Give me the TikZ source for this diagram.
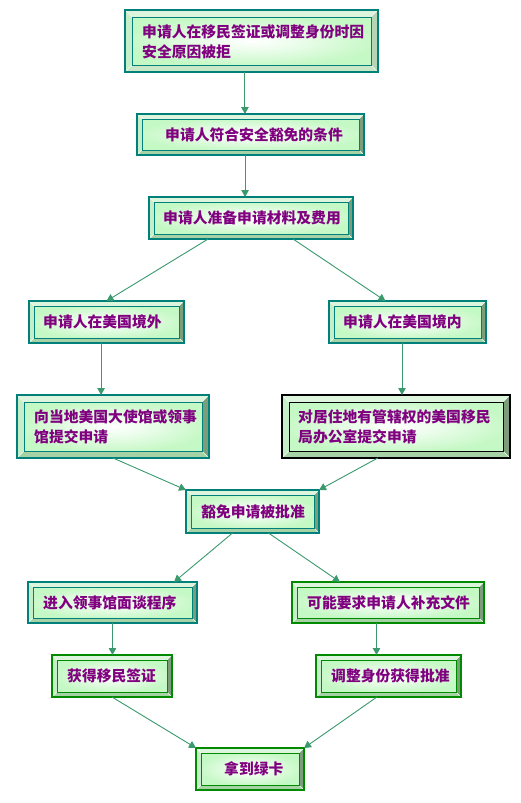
\documentclass[tikz,border=0pt]{standalone}
\usepackage{fontspec}
\newfontfamily\cjk{Noto Sans CJK SC}
\usetikzlibrary{calc,arrows.meta}
\definecolor{bteal}{HTML}{00807A}
\definecolor{bgreen}{HTML}{008A00}
\definecolor{inC}{HTML}{C4F8C4}
\definecolor{topC}{HTML}{DDF4DD}
\definecolor{leftC}{HTML}{C6EEC8}
\definecolor{rdark}{HTML}{7C9C7C}
\definecolor{rlite}{HTML}{B6D4B6}
\definecolor{bmid}{HTML}{A6D2A6}
\definecolor{blite}{HTML}{C8E8C8}
\definecolor{purp}{HTML}{800080}
\definecolor{arrowc}{HTML}{3A9A6E}
\pgfdeclareradialshading{glow}{\pgfpoint{0bp}{0bp}}{color(0bp)=(white); color(10bp)=(white!65!inC); color(27bp)=(inC); color(50bp)=(inC)}
\newcommand\bevbox[9]{%
  \node[minimum width={#4-#2}, minimum height={#5-#3}, inner sep=0pt, outer sep=0pt] (#1) at ({(#2+#4)/2},{(#3+#5)/2}) {};
  \fill[topC] (#1.north west) -- (#1.north east) -- ($(#1.north east)+(-#6,#6)$) -- ($(#1.north west)+(#6,#6)$) -- cycle;
  \fill[leftC] (#1.north west) -- ($(#1.north west)+(#6,#6)$) -- ($(#1.south west)+(#6,-#6)$) -- (#1.south west) -- cycle;
  \fill[#8] (#1.north east) -- (#1.south east) -- ($(#1.south east)+(-#6,-#6)$) -- ($(#1.north east)+(-#6,#6)$) -- cycle;
  \fill[#9] (#1.south west) -- ($(#1.south west)+(#6,-#6)$) -- ($(#1.south east)+(-#6,-#6)$) -- (#1.south east) -- cycle;
  \draw[white!60!topC, line width=0.4pt] (#1.north west) -- ($(#1.north west)+(#6,#6)$) (#1.north east) -- ($(#1.north east)+(-#6,#6)$) (#1.south west) -- ($(#1.south west)+(#6,-#6)$) (#1.south east) -- ($(#1.south east)+(-#6,-#6)$);
  \shade[shading=glow] ($(#1.north west)+(#6,#6)$) rectangle ($(#1.south east)+(-#6,-#6)$);
  \draw[#7, line width=0.9pt] ($(#1.north west)+(#6,#6)$) rectangle ($(#1.south east)+(-#6,-#6)$);
  \draw[#7, line width=1.2pt] (#1.north west) rectangle (#1.south east);
}
\begin{document}
\begin{tikzpicture}[x=1pt, y=-1pt,
  txt/.style={font=\cjk\bfseries\fontsize{14.8pt}{20pt}\selectfont, text=purp, anchor=west, inner sep=0pt, align=left},
  arr/.style={draw=arrowc, line width=0.9pt, -{Triangle[length=7pt,width=7.5pt]}}]
\fill[white] (0,0) rectangle (521,803);
\useasboundingbox (0,0) rectangle (521,803);

\bevbox{b1}{125}{10}{378}{72}{7}{bteal}{rlite}{blite}
\bevbox{b2}{137}{114}{364}{155}{5}{bteal}{rdark}{bmid}
\bevbox{b3}{149}{197}{353}{239}{5}{bteal}{rdark}{bmid}
\bevbox{b4}{29}{301}{184}{343}{5}{bteal}{rdark}{bmid}
\bevbox{b5}{329}{301}{486}{343}{5}{bteal}{rdark}{bmid}
\bevbox{b6}{17}{395}{209}{458}{7}{bteal}{rdark}{bmid}
\bevbox{b7}{282}{395}{510}{458}{7}{black}{rdark}{bmid}
\bevbox{b8}{186}{490}{319}{533}{5}{bteal}{rdark}{bmid}
\bevbox{b9}{28}{582}{197}{623}{5}{bteal}{rdark}{bmid}
\bevbox{b10}{292}{582}{484}{623}{5}{bgreen}{rdark}{bmid}
\bevbox{b11}{52}{655}{172}{697}{5}{bgreen}{rdark}{bmid}
\bevbox{b12}{316}{655}{461}{697}{5}{bgreen}{rdark}{bmid}
\bevbox{b13}{196}{748}{304}{790}{5}{bgreen}{rdark}{bmid}

\node[txt] (t1) at ($(b1.west)+(17,1)$) {申请人在移民签证或调整身份时因\\安全原因被拒};
\node[txt] (t2) at ($(b2.west)+(28,0)$) {申请人符合安全豁免的条件};
\node[txt] (t3) at ($(b3.west)+(14,0)$) {申请人准备申请材料及费用};
\node[txt] (t4) at ($(b4.west)+(14,0)$) {申请人在美国境外};
\node[txt] (t5) at ($(b5.west)+(14,0)$) {申请人在美国境内};
\node[txt] (t6) at ($(b6.west)+(17,0)$) {向当地美国大使馆或领事\\馆提交申请};
\node[txt] (t7) at ($(b7.west)+(16,0)$) {对居住地有管辖权的美国移民\\局办公室提交申请};
\node[txt] (t8) at ($(b8.west)+(15,0)$) {豁免申请被批准};
\node[txt] (t9) at ($(b9.west)+(15,0)$) {进入领事馆面谈程序};
\node[txt] (t10) at ($(b10.west)+(15,0)$) {可能要求申请人补充文件};
\node[txt] (t11) at ($(b11.west)+(15,0)$) {获得移民签证};
\node[txt] (t12) at ($(b12.west)+(15,0)$) {调整身份获得批准};
\node[txt] (t13) at ($(b13.west)+(28,0)$) {拿到绿卡};

% start / end points on box edges
\coordinate (s1) at ($(b1.south west)!0.474!(b1.south east)$);
\coordinate (s2) at ($(b2.south west)!0.476!(b2.south east)$);
\coordinate (s3l) at ($(b3.south west)!0.29!(b3.south east)$);
\coordinate (s3r) at ($(b3.south west)!0.706!(b3.south east)$);
\coordinate (e5) at ($(b5.north west)!0.36!(b5.north east)$);
\coordinate (s4) at ($(b4.south west)!0.465!(b4.south east)$);
\coordinate (s5) at ($(b5.south west)!0.465!(b5.south east)$);
\coordinate (s7) at ($(b7.south west)!0.42!(b7.south east)$);
\coordinate (s8l) at ($(b8.south west)!0.35!(b8.south east)$);
\coordinate (s8r) at ($(b8.south west)!0.62!(b8.south east)$);
\coordinate (e9) at ($(b9.north west)!0.864!(b9.north east)$);
\coordinate (e10) at ($(b10.north west)!0.25!(b10.north east)$);
\coordinate (s9) at ($(b9.south west)!0.50!(b9.south east)$);
\coordinate (s10) at ($(b10.south west)!0.44!(b10.south east)$);
\coordinate (s12) at ($(b12.south west)!0.42!(b12.south east)$);

\draw[arr] (s1) -- (s1 |- b2.north);
\draw[arr] (s2) -- (s2 |- b3.north);
\draw[arr] (s3l) -- (b4.north);
\draw[arr] (s3r) -- (e5);
\draw[arr] (s4) -- (s4 |- b6.north);
\draw[arr] (s5) -- (s5 |- b7.north);
\draw[arr] (b6.south) -- (b8.north west);
\draw[arr] (s7) -- (b8.north east);
\draw[arr] (s8l) -- (e9);
\draw[arr] (s8r) -- (e10);
\draw[arr] (s9) -- (s9 |- b11.north);
\draw[arr] (s10) -- (s10 |- b12.north);
\draw[arr] (b11.south) -- (b13.north west);
\draw[arr] (s12) -- (b13.north east);
\end{tikzpicture}
\end{document}
